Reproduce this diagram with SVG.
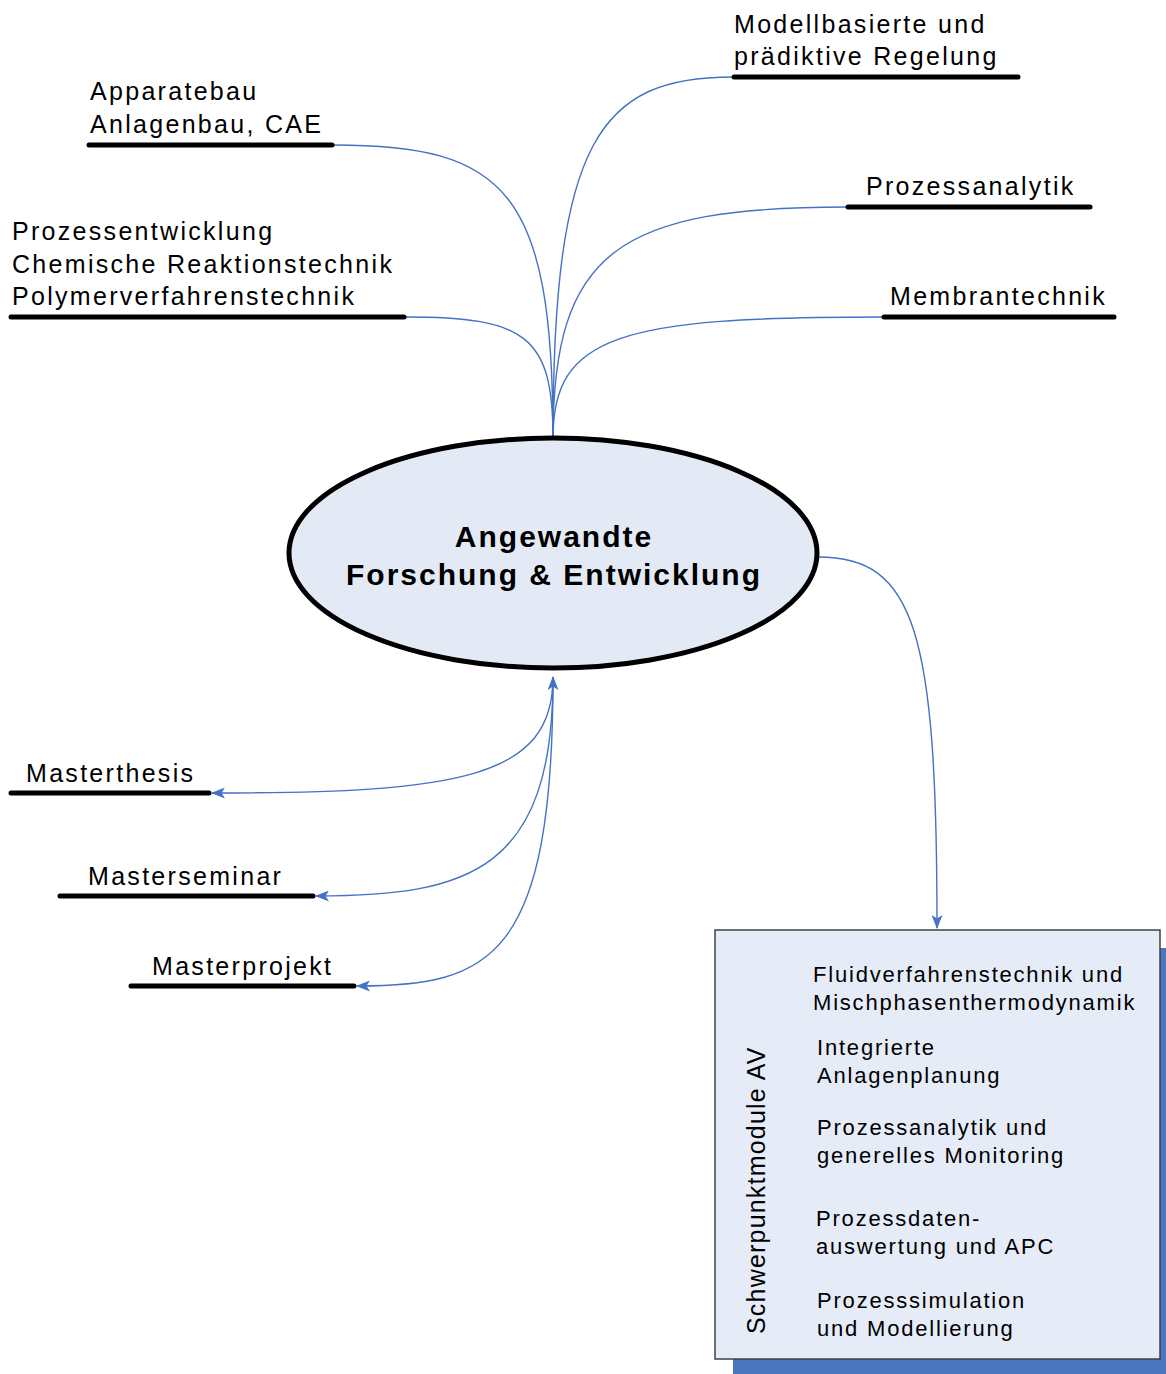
<svg xmlns="http://www.w3.org/2000/svg" width="1166" height="1374" viewBox="0 0 1166 1374">
<defs>
<marker id="arr" viewBox="0 0 14 11" refX="13" refY="5.5" markerWidth="14" markerHeight="11" markerUnits="userSpaceOnUse" orient="auto-start-reverse">
<path d="M0,0 L14,5.5 L0,11 L3.5,5.5 Z" fill="#4472c4"/>
</marker>
<style>
.lbl{font-family:"Liberation Sans",Arial,sans-serif;font-size:25px;letter-spacing:2.3px;fill:#000}
.box{font-family:"Liberation Sans",Arial,sans-serif;font-size:22px;letter-spacing:1.8px;fill:#000}
.title{font-family:"Liberation Sans",Arial,sans-serif;font-size:30px;font-weight:bold;letter-spacing:2px;fill:#000}
.ul{stroke:#000;stroke-width:5;stroke-linecap:round}
.con{fill:none;stroke:#4472c4;stroke-width:1.4}
</style>
</defs>
<rect width="1166" height="1374" fill="#fff"/>

<g id="connectors">
<path class="con" d="M553,438 C553,190 505,145 333,145"/>
<path class="con" d="M553,438 C553,335 525,317 405,317"/>
<path class="con" d="M553,438 C553,140 600,77 733,77"/>
<path class="con" d="M553,438 C553,250 620,207 848,207"/>
<path class="con" d="M553,438 C553,335 620,317 883,317"/>
<path class="con" d="M553,677 C553,778 460,793 212,793" marker-start="url(#arr)" marker-end="url(#arr)"/>
<path class="con" d="M553,677 C553,870 470,896 316,896" marker-end="url(#arr)"/>
<path class="con" d="M553,677 C553,960 490,986 357,986" marker-end="url(#arr)"/>
<path class="con" d="M818,557 C915,557 937,630 937,928" marker-end="url(#arr)"/>
</g>

<g id="node-apparatebau">
<text class="lbl" x="90" y="100">Apparatebau</text>
<text class="lbl" x="90" y="133">Anlagenbau, CAE</text>
<line class="ul" x1="89" y1="145" x2="332" y2="145"/>
</g>

<g id="node-prozessentwicklung">
<text class="lbl" x="12" y="240">Prozessentwicklung</text>
<text class="lbl" x="12" y="273">Chemische Reaktionstechnik</text>
<text class="lbl" x="12" y="305">Polymerverfahrenstechnik</text>
<line class="ul" x1="11" y1="317" x2="404" y2="317"/>
</g>

<g id="node-modellbasiert">
<text class="lbl" x="734" y="33">Modellbasierte und</text>
<text class="lbl" x="734" y="65">prädiktive Regelung</text>
<line class="ul" x1="734" y1="77" x2="1018" y2="77"/>
</g>

<g id="node-prozessanalytik">
<text class="lbl" x="866" y="195">Prozessanalytik</text>
<line class="ul" x1="848" y1="207" x2="1090" y2="207"/>
</g>

<g id="node-membrantechnik">
<text class="lbl" x="890" y="305">Membrantechnik</text>
<line class="ul" x1="884" y1="317" x2="1114" y2="317"/>
</g>

<g id="node-center">
<ellipse cx="553" cy="553" rx="264" ry="115" fill="#e4eaf5" stroke="#000" stroke-width="5"/>
<text class="title" x="554" y="547" text-anchor="middle">Angewandte</text>
<text class="title" x="554" y="585" text-anchor="middle">Forschung &amp; Entwicklung</text>
</g>

<g id="node-masterthesis">
<text class="lbl" x="26" y="782">Masterthesis</text>
<line class="ul" x1="11" y1="793" x2="209" y2="793"/>
</g>

<g id="node-masterseminar">
<text class="lbl" x="88" y="885">Masterseminar</text>
<line class="ul" x1="60" y1="896" x2="313" y2="896"/>
</g>

<g id="node-masterprojekt">
<text class="lbl" x="152" y="975">Masterprojekt</text>
<line class="ul" x1="131" y1="986" x2="354" y2="986"/>
</g>

<g id="node-schwerpunkt">
<rect x="733" y="948" width="446" height="430" fill="#4a76bf"/>
<rect x="715" y="930" width="445" height="429" fill="#e6ecf7" stroke="#404040" stroke-width="1.5"/>
<text class="lbl" transform="translate(765,1334) rotate(-90)" style="letter-spacing:1.2px">Schwerpunktmodule AV</text>
<text class="box" x="813" y="982">Fluidverfahrenstechnik und</text>
<text class="box" x="813" y="1010">Mischphasenthermodynamik</text>
<text class="box" x="817" y="1055">Integrierte</text>
<text class="box" x="817" y="1083">Anlagenplanung</text>
<text class="box" x="817" y="1135">Prozessanalytik und</text>
<text class="box" x="817" y="1163">generelles Monitoring</text>
<text class="box" x="816" y="1226">Prozessdaten-</text>
<text class="box" x="816" y="1254">auswertung und APC</text>
<text class="box" x="817" y="1308">Prozesssimulation</text>
<text class="box" x="817" y="1336">und Modellierung</text>
</g>
</svg>
